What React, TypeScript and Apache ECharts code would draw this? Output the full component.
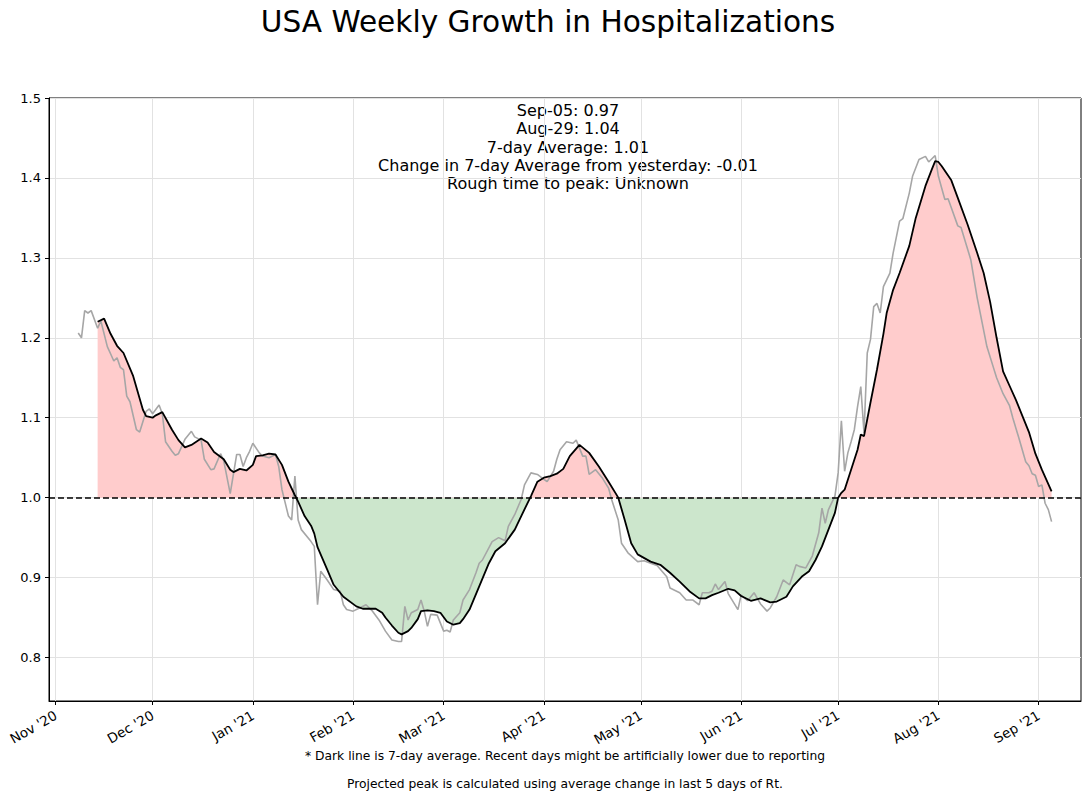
import React, { useEffect, useRef } from "react";
import * as echarts from "echarts";

const TITLE = "USA Weekly Growth in Hospitalizations";
const annotationLines = [
  "Sep-05: 0.97",
  "Aug-29: 1.04",
  "7-day Average: 1.01",
  "Change in 7-day Average from yesterday: -0.01",
  "Rough time to peak: Unknown",
];
const footnotes = [
  "* Dark line is 7-day average. Recent days might be artificially lower due to reporting",
  "Projected peak is calculated using average change in last 5 days of Rt.",
];

const monthTickDates = [
  "2020-11-01", "2020-12-01", "2021-01-01", "2021-02-01", "2021-03-01", "2021-04-01",
  "2021-05-01", "2021-06-01", "2021-07-01", "2021-08-01", "2021-09-01",
];
const monthTickLabels = [
  "Nov '20", "Dec '20", "Jan '21", "Feb '21", "Mar '21", "Apr '21",
  "May '21", "Jun '21", "Jul '21", "Aug '21", "Sep '21",
];
const yTickValues = [0.8, 0.9, 1.0, 1.1, 1.2, 1.3, 1.4, 1.5];
const BASELINE = 1.0;

// daily growth ratio (grey line)
const rawSeries: [string, number][] = [
  ["2020-11-08", 1.206], ["2020-11-09", 1.2], ["2020-11-10", 1.234], ["2020-11-11", 1.231],
  ["2020-11-12", 1.234], ["2020-11-14", 1.212], ["2020-11-15", 1.221], ["2020-11-17", 1.189],
  ["2020-11-18", 1.18], ["2020-11-19", 1.171], ["2020-11-20", 1.175], ["2020-11-21", 1.163],
  ["2020-11-22", 1.16], ["2020-11-23", 1.127], ["2020-11-24", 1.12], ["2020-11-26", 1.085],
  ["2020-11-27", 1.082], ["2020-11-29", 1.108], ["2020-11-30", 1.111], ["2020-12-01", 1.105],
  ["2020-12-03", 1.116], ["2020-12-04", 1.105], ["2020-12-05", 1.07], ["2020-12-07", 1.058],
  ["2020-12-08", 1.053], ["2020-12-09", 1.055], ["2020-12-11", 1.073], ["2020-12-13", 1.083],
  ["2020-12-14", 1.076], ["2020-12-16", 1.072], ["2020-12-17", 1.048], ["2020-12-19", 1.035],
  ["2020-12-20", 1.036], ["2020-12-22", 1.055], ["2020-12-23", 1.046], ["2020-12-25", 1.005],
  ["2020-12-27", 1.054], ["2020-12-28", 1.054], ["2020-12-29", 1.039], ["2020-12-30", 1.05],
  ["2020-12-31", 1.058], ["2021-01-01", 1.068], ["2021-01-03", 1.056], ["2021-01-04", 1.052],
  ["2021-01-06", 1.05], ["2021-01-08", 1.054], ["2021-01-09", 1.039], ["2021-01-10", 1.01],
  ["2021-01-12", 0.977], ["2021-01-13", 0.972], ["2021-01-14", 1.027], ["2021-01-15", 0.972],
  ["2021-01-16", 0.96], ["2021-01-19", 0.945], ["2021-01-20", 0.939], ["2021-01-21", 0.866],
  ["2021-01-22", 0.908], ["2021-01-24", 0.897], ["2021-01-26", 0.885], ["2021-01-28", 0.883],
  ["2021-01-29", 0.866], ["2021-01-30", 0.86], ["2021-02-01", 0.858], ["2021-02-03", 0.862],
  ["2021-02-05", 0.866], ["2021-02-07", 0.858], ["2021-02-09", 0.847], ["2021-02-11", 0.833],
  ["2021-02-13", 0.822], ["2021-02-15", 0.82], ["2021-02-16", 0.82], ["2021-02-17", 0.864],
  ["2021-02-18", 0.847], ["2021-02-19", 0.856], ["2021-02-21", 0.86], ["2021-02-22", 0.872],
  ["2021-02-23", 0.858], ["2021-02-24", 0.839], ["2021-02-25", 0.854], ["2021-02-27", 0.853],
  ["2021-03-01", 0.833], ["2021-03-02", 0.834], ["2021-03-03", 0.832], ["2021-03-04", 0.847],
  ["2021-03-06", 0.856], ["2021-03-07", 0.872], ["2021-03-09", 0.885], ["2021-03-11", 0.906],
  ["2021-03-12", 0.918], ["2021-03-13", 0.922], ["2021-03-16", 0.945], ["2021-03-18", 0.95],
  ["2021-03-20", 0.946], ["2021-03-21", 0.964], ["2021-03-23", 0.979], ["2021-03-25", 0.998],
  ["2021-03-26", 1.016], ["2021-03-28", 1.031], ["2021-03-30", 1.029], ["2021-04-01", 1.023],
  ["2021-04-02", 1.02], ["2021-04-04", 1.033], ["2021-04-05", 1.048], ["2021-04-06", 1.06],
  ["2021-04-08", 1.07], ["2021-04-10", 1.068], ["2021-04-11", 1.072], ["2021-04-13", 1.052],
  ["2021-04-14", 1.052], ["2021-04-15", 1.029], ["2021-04-17", 1.035], ["2021-04-19", 1.025],
  ["2021-04-21", 1.012], ["2021-04-22", 0.997], ["2021-04-24", 0.972], ["2021-04-25", 0.943],
  ["2021-04-27", 0.931], ["2021-04-30", 0.92], ["2021-05-02", 0.921], ["2021-05-04", 0.918],
  ["2021-05-06", 0.915], ["2021-05-09", 0.901], ["2021-05-10", 0.887], ["2021-05-13", 0.881],
  ["2021-05-15", 0.872], ["2021-05-17", 0.872], ["2021-05-19", 0.866], ["2021-05-20", 0.881],
  ["2021-05-22", 0.881], ["2021-05-23", 0.883], ["2021-05-24", 0.892], ["2021-05-25", 0.885],
  ["2021-05-27", 0.895], ["2021-05-28", 0.88], ["2021-05-31", 0.86], ["2021-06-01", 0.878],
  ["2021-06-03", 0.871], ["2021-06-05", 0.881], ["2021-06-07", 0.867], ["2021-06-09", 0.858],
  ["2021-06-10", 0.862], ["2021-06-12", 0.876], ["2021-06-14", 0.897], ["2021-06-16", 0.891],
  ["2021-06-18", 0.916], ["2021-06-19", 0.914], ["2021-06-21", 0.912], ["2021-06-23", 0.927],
  ["2021-06-25", 0.956], ["2021-06-26", 0.987], ["2021-06-27", 0.968], ["2021-06-28", 0.985],
  ["2021-06-30", 1.002], ["2021-07-01", 1.031], ["2021-07-02", 1.096], ["2021-07-03", 1.033],
  ["2021-07-04", 1.056], ["2021-07-05", 1.07], ["2021-07-06", 1.085], ["2021-07-07", 1.114],
  ["2021-07-08", 1.139], ["2021-07-09", 1.081], ["2021-07-10", 1.181], ["2021-07-11", 1.198],
  ["2021-07-12", 1.239], ["2021-07-13", 1.243], ["2021-07-14", 1.231], ["2021-07-15", 1.264],
  ["2021-07-17", 1.281], ["2021-07-18", 1.306], ["2021-07-20", 1.346], ["2021-07-21", 1.349],
  ["2021-07-23", 1.381], ["2021-07-24", 1.402], ["2021-07-26", 1.423], ["2021-07-28", 1.427],
  ["2021-07-29", 1.42], ["2021-07-31", 1.428], ["2021-08-01", 1.402], ["2021-08-03", 1.373],
  ["2021-08-04", 1.374], ["2021-08-07", 1.34], ["2021-08-08", 1.338], ["2021-08-11", 1.298],
  ["2021-08-13", 1.25], ["2021-08-16", 1.189], ["2021-08-18", 1.163], ["2021-08-19", 1.15],
  ["2021-08-21", 1.13], ["2021-08-23", 1.115], ["2021-08-24", 1.1], ["2021-08-26", 1.073],
  ["2021-08-28", 1.045], ["2021-08-29", 1.04], ["2021-08-30", 1.03], ["2021-08-31", 1.028],
  ["2021-09-01", 1.014], ["2021-09-02", 1.016], ["2021-09-03", 0.993], ["2021-09-04", 0.985],
  ["2021-09-05", 0.97],
];

// 7-day average (black line)
const avgSeries: [string, number][] = [
  ["2020-11-14", 1.22], ["2020-11-16", 1.224], ["2020-11-18", 1.205], ["2020-11-20", 1.19],
  ["2020-11-22", 1.181], ["2020-11-25", 1.152], ["2020-11-28", 1.11], ["2020-11-29", 1.102],
  ["2020-12-01", 1.1], ["2020-12-02", 1.103], ["2020-12-04", 1.107], ["2020-12-07", 1.085],
  ["2020-12-09", 1.072], ["2020-12-11", 1.063], ["2020-12-13", 1.066], ["2020-12-16", 1.074],
  ["2020-12-18", 1.069], ["2020-12-20", 1.057], ["2020-12-23", 1.048], ["2020-12-25", 1.035],
  ["2020-12-26", 1.032], ["2020-12-28", 1.036], ["2020-12-30", 1.034], ["2021-01-01", 1.041],
  ["2021-01-02", 1.052], ["2021-01-04", 1.053], ["2021-01-06", 1.055], ["2021-01-08", 1.054],
  ["2021-01-10", 1.041], ["2021-01-12", 1.02], ["2021-01-14", 1.003], ["2021-01-15", 0.995],
  ["2021-01-17", 0.977], ["2021-01-19", 0.965], ["2021-01-20", 0.955], ["2021-01-21", 0.938],
  ["2021-01-24", 0.91], ["2021-01-26", 0.891], ["2021-01-29", 0.876], ["2021-02-02", 0.864],
  ["2021-02-04", 0.861], ["2021-02-08", 0.861], ["2021-02-10", 0.856], ["2021-02-11", 0.85],
  ["2021-02-13", 0.84], ["2021-02-15", 0.831], ["2021-02-16", 0.829], ["2021-02-18", 0.833],
  ["2021-02-19", 0.837], ["2021-02-21", 0.848], ["2021-02-22", 0.858], ["2021-02-24", 0.859],
  ["2021-02-26", 0.858], ["2021-02-28", 0.856], ["2021-03-02", 0.845], ["2021-03-04", 0.841],
  ["2021-03-06", 0.843], ["2021-03-07", 0.848], ["2021-03-09", 0.86], ["2021-03-12", 0.889],
  ["2021-03-15", 0.918], ["2021-03-17", 0.933], ["2021-03-20", 0.943], ["2021-03-23", 0.96],
  ["2021-03-25", 0.977], ["2021-03-28", 1.002], ["2021-03-30", 1.02], ["2021-04-01", 1.025],
  ["2021-04-03", 1.027], ["2021-04-05", 1.03], ["2021-04-07", 1.036], ["2021-04-09", 1.052],
  ["2021-04-12", 1.066], ["2021-04-15", 1.056], ["2021-04-18", 1.039], ["2021-04-21", 1.02],
  ["2021-04-24", 1.0], ["2021-04-26", 0.972], ["2021-04-28", 0.943], ["2021-04-30", 0.929],
  ["2021-05-04", 0.92], ["2021-05-07", 0.916], ["2021-05-10", 0.906], ["2021-05-13", 0.895],
  ["2021-05-16", 0.883], ["2021-05-19", 0.874], ["2021-05-21", 0.874], ["2021-05-23", 0.878],
  ["2021-05-25", 0.881], ["2021-05-28", 0.886], ["2021-05-30", 0.884], ["2021-06-01", 0.877],
  ["2021-06-04", 0.871], ["2021-06-07", 0.874], ["2021-06-10", 0.869], ["2021-06-12", 0.87],
  ["2021-06-15", 0.876], ["2021-06-17", 0.889], ["2021-06-20", 0.902], ["2021-06-22", 0.908],
  ["2021-06-24", 0.922], ["2021-06-26", 0.939], ["2021-06-28", 0.96], ["2021-06-30", 0.981],
  ["2021-07-01", 1.0], ["2021-07-02", 1.006], ["2021-07-03", 1.01], ["2021-07-05", 1.035],
  ["2021-07-07", 1.06], ["2021-07-08", 1.079], ["2021-07-09", 1.077], ["2021-07-11", 1.119],
  ["2021-07-13", 1.16], ["2021-07-15", 1.205], ["2021-07-16", 1.231], ["2021-07-18", 1.26],
  ["2021-07-20", 1.281], ["2021-07-23", 1.315], ["2021-07-25", 1.35], ["2021-07-28", 1.39],
  ["2021-07-30", 1.411], ["2021-07-31", 1.421], ["2021-08-01", 1.42], ["2021-08-02", 1.415],
  ["2021-08-05", 1.397], ["2021-08-07", 1.375], ["2021-08-10", 1.342], ["2021-08-13", 1.306],
  ["2021-08-15", 1.281], ["2021-08-17", 1.245], ["2021-08-19", 1.2], ["2021-08-21", 1.158],
  ["2021-08-23", 1.14], ["2021-08-25", 1.122], ["2021-08-27", 1.102], ["2021-08-29", 1.082],
  ["2021-08-31", 1.055], ["2021-09-02", 1.035], ["2021-09-03", 1.026], ["2021-09-05", 1.008],
];

const X_MIN = -2.04;
const X_MAX = 317.1;
const Y_MIN = 0.7456;
const Y_MAX = 1.5;
const FONT = "DejaVu Sans";

const ORIGIN = Date.UTC(2020, 10, 1);
function dayOf(s: string): number {
  const [y, m, d] = s.split("-").map(Number);
  return (Date.UTC(y, m - 1, d) - ORIGIN) / 86400000;
}

export default function App() {
  const ref = useRef<HTMLDivElement>(null);
  useEffect(() => {
    if (!ref.current) return;
    const chart = echarts.init(ref.current, undefined, { renderer: "svg" });
    const rawData = rawSeries.map(([d, v]) => [dayOf(d), v]);
    const avgData = avgSeries.map(([d, v]) => [dayOf(d), v]);
    const monthTicks = monthTickDates.map(dayOf);

    const textEl = (text: string, x: number, y: number, size: number) => ({
      type: "text",
      x,
      y,
      silent: true,
      style: {
        text,
        fontSize: size,
        fontFamily: FONT,
        fill: "#000",
        textAlign: "center",
        textVerticalAlign: "middle",
        align: "center",
        verticalAlign: "middle",
      },
    });

    const option: any = {
      animation: false,
      textStyle: { fontFamily: FONT },
      grid: {
        left: 49,
        right: 8,
        top: 98,
        bottom: 99,
        show: true,
        borderColor: "#000",
        borderWidth: 1,
        containLabel: false,
        outerBoundsMode: "none",
      },
      xAxis: {
        type: "value",
        min: X_MIN,
        max: X_MAX,
        axisLine: { show: true, onZero: false, lineStyle: { color: "#000", width: 1 } },
        axisTick: { show: true, customValues: monthTicks, length: 4, lineStyle: { color: "#000" } },
        axisLabel: {
          show: true,
          customValues: monthTicks,
          rotate: 30,
          margin: 13,
          fontSize: 13.5,
          color: "#000",
          fontFamily: FONT,
          formatter: (v: number) => {
            let best = 0;
            monthTicks.forEach((t, i) => {
              if (Math.abs(t - v) < Math.abs(monthTicks[best] - v)) best = i;
            });
            return monthTickLabels[best];
          },
        },
        splitLine: { show: true, lineStyle: { color: "#e2e2e2", width: 1 } },
      },
      yAxis: {
        type: "value",
        min: Y_MIN,
        max: Y_MAX,
        axisLine: { show: true, onZero: false, lineStyle: { color: "#000", width: 1 } },
        axisTick: { show: true, customValues: yTickValues, length: 4, lineStyle: { color: "#000" } },
        axisLabel: {
          show: true,
          customValues: yTickValues,
          margin: 8,
          fontSize: 13,
          color: "#000",
          fontFamily: FONT,
          formatter: (v: number) => v.toFixed(1),
        },
        splitLine: { show: true, lineStyle: { color: "#e2e2e2", width: 1 } },
      },
      visualMap: {
        show: false,
        type: "piecewise",
        seriesIndex: 0,
        dimension: 1,
        pieces: [
          { gt: 0, lte: BASELINE, color: "#cce6cc" },
          { gt: BASELINE, lte: 3, color: "#ffcccc" },
        ],
      },
      series: [
        {
          name: "fill",
          type: "line",
          data: avgData,
          showSymbol: false,
          symbol: "none",
          silent: true,
          z: 1,
          lineStyle: { width: 0, opacity: 0 },
          areaStyle: { origin: BASELINE, opacity: 1 },
        },
        {
          name: "daily",
          type: "line",
          data: rawData,
          showSymbol: false,
          symbol: "none",
          silent: true,
          z: 2,
          lineStyle: { color: "#a6a6a6", width: 1.6 },
        },
        {
          name: "7-day average",
          type: "line",
          data: avgData,
          showSymbol: false,
          symbol: "none",
          silent: true,
          z: 3,
          lineStyle: { color: "#000", width: 1.8 },
          markLine: {
            silent: true,
            symbol: ["none", "none"],
            label: { show: false },
            lineStyle: { color: "#000", type: [6, 3], width: 1.5 },
            data: [{ yAxis: BASELINE }],
          },
        },
      ],
      graphic: [
        textEl(TITLE, 548, 22, 29.6),
        ...annotationLines.map((t, i) => textEl(t, 568, 110.5 + i * 18.3, 16)),
        textEl(footnotes[0], 565, 756, 12.3),
        textEl(footnotes[1], 565, 784, 12.3),
      ],
    };
    chart.setOption(option);
    return () => chart.dispose();
  }, []);
  return (
    <div
      ref={ref}
      style={{ position: "fixed", left: 0, top: 0, width: 1089, height: 800, background: "#fff" }}
    />
  );
}
